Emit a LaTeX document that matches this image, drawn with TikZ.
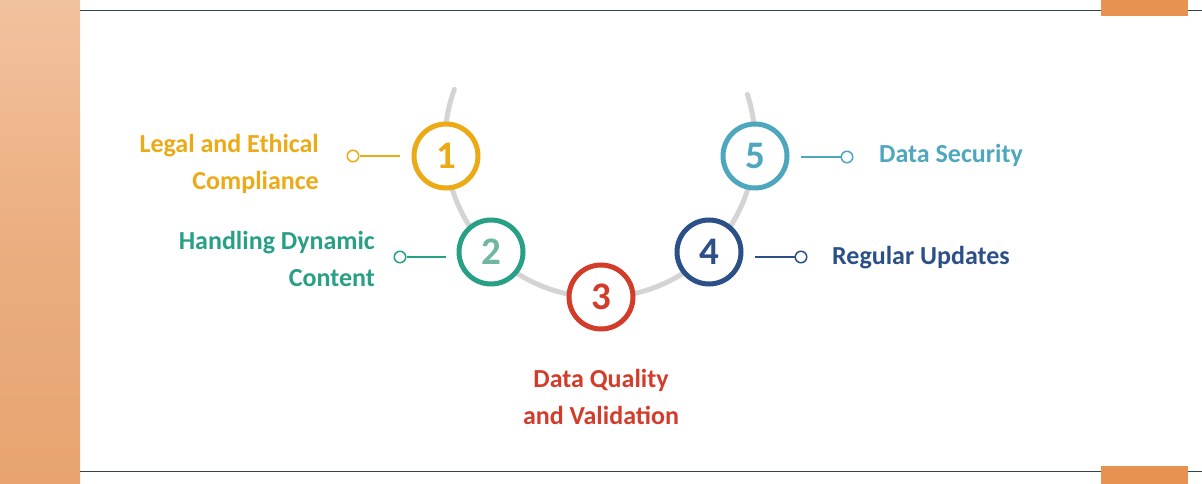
\documentclass[tikz,border=0pt]{standalone}
\usepackage{fontspec}
\setmainfont{Carlito}
\definecolor{cgold}{HTML}{EBAA16}
\definecolor{cteal}{HTML}{27A086}
\definecolor{ctealL}{HTML}{6FB7A1}
\definecolor{cred}{HTML}{D23C2A}
\definecolor{cnavy}{HTML}{2B5088}
\definecolor{cblue}{HTML}{4FA7BE}
\definecolor{carc}{HTML}{D4D4D4}
\definecolor{corng}{HTML}{E89252}
\definecolor{crule}{HTML}{2F4650}
\definecolor{phtop}{HTML}{F2C29E}
\definecolor{phmid}{HTML}{EBAE80}
\definecolor{phbot}{HTML}{E7A470}
\begin{document}
\begin{tikzpicture}[x=1pt,y=-1pt,
  ring/.style={circle, draw=#1, line width=5pt, fill=white, minimum size=64pt, inner sep=0pt,
    font=\fontsize{39}{39}\selectfont\bfseries, text=#1},
  lbl/.style={text=#1, font=\fontsize{26}{37}\selectfont\bfseries, inner sep=0pt},
  conn/.style={draw=#1, line width=1.5pt},
  dot/.style={circle, draw=#1, line width=1.5pt, fill=white, minimum size=11.5pt, inner sep=0pt},
  rulel/.style={draw=crule, line width=1pt}]
\useasboundingbox (0,0) rectangle (1202,484);
% photo strip
\shade[top color=phtop, bottom color=phbot, middle color=phmid] (0,0) rectangle (80,484);
% frame rules
\coordinate (tl) at (80,10.5);
\coordinate (tr) at (1202,10.5);
\coordinate (bl) at (80,471);
\coordinate (br) at (1202,471);
\draw[rulel] (tl) -- (tr);
\draw[rulel] (bl) -- (br);
\fill[corng] (1101,0) rectangle (1188,16);
\fill[corng] (1101,466) rectangle (1188,484);
% arc
\coordinate (ac) at (600,142.4);
\draw[carc, line width=5pt, line cap=round] (ac) ++(200:155) arc[start angle=200, end angle=-18, radius=155];
% rings
\node[ring=cgold] (r1) at (446,156) {1};
\node[ring=cteal, text=ctealL] (r2) at (491,252) {2};
\node[ring=cred] (r3) at (601,297) {3};
\node[ring=cnavy] (r4) at (709,252) {4};
\node[ring=cblue] (r5) at (755,156) {5};
% connectors
\coordinate (e1) at (400,156);
\coordinate (e2) at (446,257);
\coordinate (e4) at (755,257);
\coordinate (e5) at (801,157);
\node[dot=cgold] (d1) at (353,156) {};
\node[dot=cteal] (d2) at (400,257) {};
\node[dot=cnavy] (d4) at (801,257) {};
\node[dot=cblue] (d5) at (847,157) {};
\draw[conn=cgold] (d1) -- (e1);
\draw[conn=cteal] (d2) -- (e2);
\draw[conn=cnavy] (e4) -- (d4);
\draw[conn=cblue] (e5) -- (d5);
% labels
\node[lbl=cgold, align=right, anchor=east] (t1) at (319,164) {Legal and Ethical\\Compliance};
\node[lbl=cteal, align=right, anchor=east] (t2) at (375,259) {Handling Dynamic\\Content};
\node[lbl=cred, align=center, anchor=center] (t3) at (601,397) {Data Quality\\and Validation};
\node[lbl=cnavy, anchor=base west] (t4) at (832,264) {Regular Updates};
\node[lbl=cblue, anchor=base west] (t5) at (879,163) {Data Security};
\end{tikzpicture}
\end{document}
